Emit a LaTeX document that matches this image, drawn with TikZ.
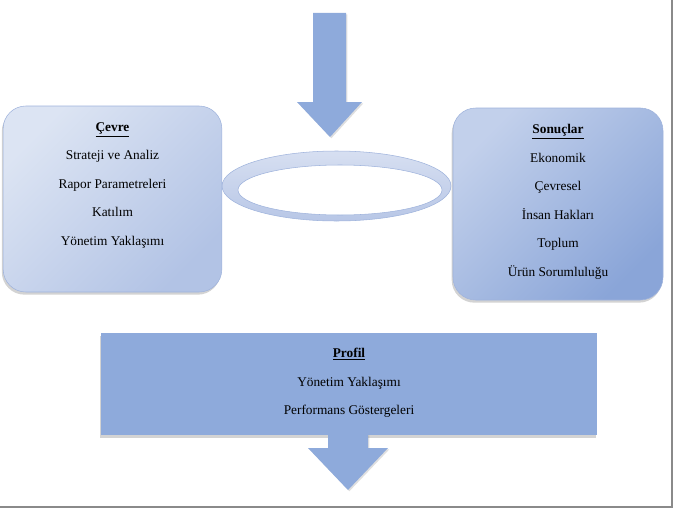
\documentclass[tikz,border=0pt]{standalone}
\usepackage{fontspec}
\setmainfont{Liberation Serif}
\usetikzlibrary{shapes,arrows,fit,positioning,shadows}
\definecolor{paleblue}{HTML}{DCE4F3}
\definecolor{midblue}{HTML}{B2C3E5}
\definecolor{lightblue}{HTML}{C2D0EB}
\definecolor{deepblue}{HTML}{8AA5D8}
\definecolor{flatblue}{HTML}{8EAADB}
\definecolor{edgeblue}{HTML}{9FB3DC}
\definecolor{ringblue}{HTML}{BCCAE8}
\definecolor{framegray}{HTML}{8A8A8A}

\begin{document}
\begin{tikzpicture}[x=0.75pt,y=-0.75pt,% pixel units, y going down
      every node/.style={
        align=center,     % so that "\\" breaks the lines
        font=\fontsize{10}{21.4}\selectfont
      },
      sidebox/.style={rectangle,rounded corners=17pt,draw=edgeblue,thin,
        drop shadow={shadow xshift=-1pt,shadow yshift=-2pt,opacity=.35}},
      flatbox/.style={rectangle,fill=flatblue,
        drop shadow={shadow xshift=-1pt,shadow yshift=-2pt,opacity=.35}},
      blockarrow/.style={fill=flatblue,
        drop shadow={shadow xshift=1pt,shadow yshift=-1pt,opacity=.25}}
    ]
    \useasboundingbox (0,0) rectangle (673,510);
    % frame
    \draw[framegray,line width=1.5pt] (672,0) -- (672,507) -- (0,507);

    % arrow going in
    \path[blockarrow] (313,13) -- (346,13) -- (346,102) -- (362,102)
      -- (330,137) -- (297,102) -- (313,102) -- cycle;

    % ring
    \path[top color=white!40!ringblue,bottom color=ringblue!85!edgeblue,
      draw=edgeblue,even odd rule]
      (336.5,186) ellipse [x radius=114.5,y radius=35]
      (340,190) ellipse [x radius=102,y radius=25];

    \node[sidebox,minimum width=164pt,minimum height=139.5pt,
      left color=paleblue,right color=midblue,shading angle=45](cevre)
      at (112.5,199){};
    \node[anchor=north](cevreText) at ([yshift=-9pt]cevre.north){
      \underline{\textbf{Çevre}} \\ Strateji ve Analiz \\
      Rapor Parametreleri \\ Katılım \\ Yönetim Yaklaşımı};

    \node[sidebox,minimum width=157.5pt,minimum height=144pt,
      left color=lightblue,right color=deepblue,shading angle=45](sonuc)
      at (558,204){};
    \node[anchor=north](sonucText) at ([yshift=-9pt]sonuc.north){
      \underline{\textbf{Sonuçlar}} \\ Ekonomik \\ Çevresel \\
      İnsan Hakları \\ Toplum \\ Ürün Sorumluluğu};

    \node[flatbox,minimum width=372pt,minimum height=76.5pt](profil)
      at (349,384){};
    \node[anchor=north](profilText) at ([yshift=-8pt]profil.north){
      \underline{\textbf{Profil}} \\ Yönetim Yaklaşımı \\
      Performans Göstergeleri};

    % arrow going out
    \path[blockarrow] (328,434) -- (368,434) -- (368,448) -- (388,448)
      -- (348,490) -- (308,448) -- (328,448) -- cycle;
  \end{tikzpicture}
\end{document}
